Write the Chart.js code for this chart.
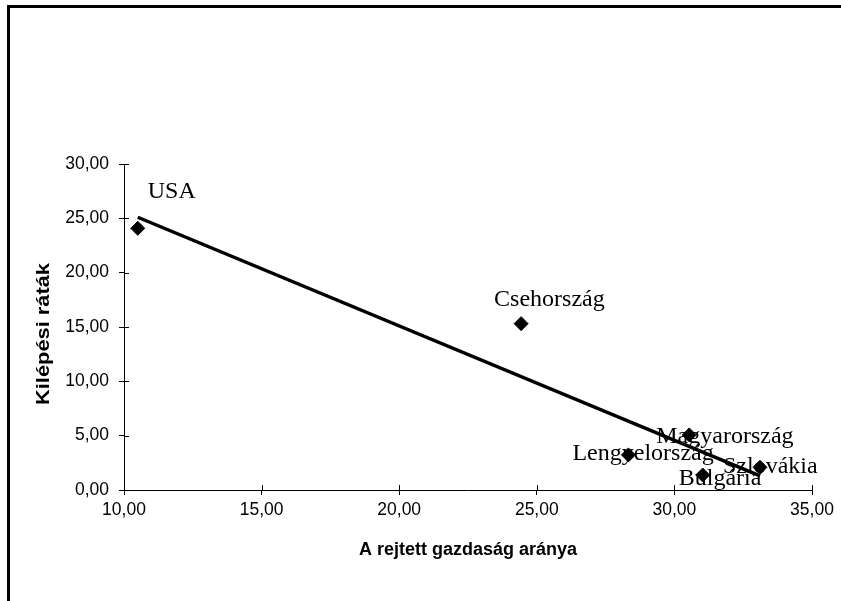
<!DOCTYPE html>
<html>
<head>
<meta charset="utf-8">
<title>Kilépési ráták</title>
<script src="https://cdn.jsdelivr.net/npm/chart.js@4/dist/chart.umd.min.js"></script>
<style>
  html, body { margin: 0; padding: 0; background: #fff; }
  #wrap { position: relative; width: 841px; height: 601px; overflow: hidden; }
  #frame {
    position: absolute; left: 7px; top: 5px; width: 900px; height: 700px;
    border-left: 3px solid #000; border-top: 3px solid #000;
  }
  #box { position: absolute; left: 0; top: 0; width: 841px; height: 601px; }
</style>
</head>
<body>
<div id="wrap">
  <div id="frame"></div>
  <div id="box"><canvas id="exitChart"></canvas></div>
</div>
<script>
// values
const countries = ['USA', 'Csehország', 'Lengyelország', 'Magyarország', 'Bulgária', 'Szlovákia'];
const shadowShare = [10.50, 24.43, 28.33, 30.54, 31.03, 33.11];   // A rejtett gazdaság aránya
const exitRates = [24.08, 15.31, 3.23, 5.07, 1.38, 2.09];        // Kilépési ráták
const trendX = [10.50, 33.11];
const trendY = [25.10, 1.30];
const xTickValues = [10, 15, 20, 25, 30, 35];
const yTickValues = [0, 5, 10, 15, 20, 25, 30];

// label placement relative to each marker (px)
const labelOffsets = [[10, -30], [-27, -18], [-56, 5], [-33, 8], [-24, 10], [-37, 6]];

const fmt = v => v.toFixed(2).replace('.', ',');

const innerTicks = {
  id: 'innerTicks',
  afterDraw(chart) {
    const { ctx, chartArea, scales } = chart;
    ctx.save();
    ctx.strokeStyle = '#000';
    ctx.lineWidth = 1;
    ctx.beginPath();
    xTickValues.forEach(v => {
      const px = Math.round(scales.x.getPixelForValue(v)) + 0.5;
      ctx.moveTo(px, chartArea.bottom);
      ctx.lineTo(px, chartArea.bottom - 5);
    });
    yTickValues.forEach(v => {
      const py = Math.round(scales.y.getPixelForValue(v)) + 0.5;
      ctx.moveTo(chartArea.left, py);
      ctx.lineTo(chartArea.left + 5, py);
    });
    ctx.stroke();
    ctx.restore();
  }
};

const pointLabels = {
  id: 'pointLabels',
  afterDatasetsDraw(chart) {
    const { ctx } = chart;
    const meta = chart.getDatasetMeta(1);
    ctx.save();
    ctx.font = '24px "Liberation Serif", "Times New Roman", serif';
    ctx.fillStyle = '#000';
    ctx.textAlign = 'left';
    ctx.textBaseline = 'alphabetic';
    meta.data.forEach((pt, i) => {
      const [dx, dy] = labelOffsets[i];
      ctx.fillText(countries[i], pt.x + dx, pt.y + dy);
    });
    ctx.restore();
  }
};

// y title is wider than its font in the original, so draw it stretched
const yTitle = {
  id: 'yTitle',
  afterDraw(chart) {
    const { ctx, chartArea } = chart;
    const text = 'Kilépési ráták';
    ctx.save();
    ctx.font = 'bold 18px "Liberation Sans", Arial, sans-serif';
    ctx.fillStyle = '#000';
    ctx.textAlign = 'center';
    ctx.textBaseline = 'middle';
    const w = ctx.measureText(text).width;
    ctx.translate(44.5, (chartArea.top + chartArea.bottom) / 2 + 7);
    ctx.rotate(-Math.PI / 2);
    ctx.scale(142 / w, 1);
    ctx.fillText(text, 0, 0);
    ctx.restore();
  }
};

const axisFont = { family: '"Liberation Sans", Arial, sans-serif', size: 17.5 };

new Chart(document.getElementById('exitChart'), {
  type: 'scatter',
  data: {
    datasets: [{
      type: 'line',
      label: 'trend',
      data: trendX.map((x, i) => ({ x, y: trendY[i] })),
      borderColor: '#000',
      borderWidth: 3.5,
      pointRadius: 0,
      fill: false,
      tension: 0,
      order: 0
    }, {
      label: 'Kilépési ráták',
      data: shadowShare.map((x, i) => ({ x, y: exitRates[i] })),
      pointStyle: 'rectRot',
      pointRadius: 7,
      pointBackgroundColor: '#000',
      pointBorderColor: '#000',
      pointBorderWidth: 1,
      order: 1
    }]
  },
  options: {
    responsive: true,
    maintainAspectRatio: false,
    animation: false,
    layout: { padding: { left: 0, right: 29, top: 164, bottom: 40 } },
    plugins: {
      legend: { display: false },
      tooltip: { enabled: false }
    },
    scales: {
      x: {
        type: 'linear',
        min: 10,
        max: 35,
        afterBuildTicks: s => { s.ticks = xTickValues.map(value => ({ value })); },
        afterFit: s => { s.height = 71; },
        grid: { display: true, drawOnChartArea: false, drawTicks: true, tickLength: 5, color: '#000' },
        border: { display: true, color: '#000', width: 1 },
        ticks: { color: '#000', font: axisFont, padding: 5, maxRotation: 0, callback: fmt },
        title: {
          display: true,
          text: 'A rejtett gazdaság aránya',
          color: '#000',
          font: { family: '"Liberation Sans", Arial, sans-serif', size: 18, weight: 'bold' },
          padding: { top: 0, bottom: 0 }
        }
      },
      y: {
        type: 'linear',
        min: 0,
        max: 30,
        afterBuildTicks: s => { s.ticks = yTickValues.map(value => ({ value })); },
        afterFit: s => { s.width = 124; },
        grid: { display: true, drawOnChartArea: false, drawTicks: true, tickLength: 5, color: '#000' },
        border: { display: true, color: '#000', width: 1 },
        ticks: { color: '#000', font: axisFont, padding: 10, callback: fmt }
      }
    }
  },
  plugins: [innerTicks, pointLabels, yTitle]
});
</script>
</body>
</html>
